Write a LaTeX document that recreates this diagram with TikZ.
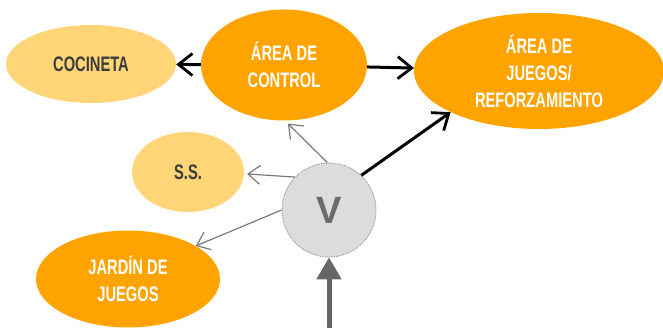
\documentclass[tikz,border=0pt]{standalone}
\usepackage{fontspec}
\setmainfont{Liberation Sans}
\newfontfamily\narrowfont[FakeStretch=0.7,BoldFeatures={FakeStretch=0.7}]{Liberation Sans}
\usetikzlibrary{shapes.geometric,arrows.meta}
\definecolor{zoneorange}{HTML}{FFA300}
\definecolor{zonelight}{HTML}{FFD577}
\definecolor{zonetext}{HTML}{3C3C3C}
\definecolor{vfill}{HTML}{DCDCDC}
\definecolor{vtext}{HTML}{6B6B6B}
\definecolor{thinlink}{HTML}{7A7A7A}
\definecolor{entrylink}{HTML}{666666}
\tikzset{
  zone/.style={ellipse, inner sep=0pt, align=center,
    font=\fontsize{21}{27}\selectfont\narrowfont\bfseries},
  mainzone/.style={zone, fill=zoneorange, text=white},
  sidezone/.style={zone, fill=zonelight, text=zonetext},
  hub/.style={circle, minimum size=94pt, inner sep=0pt, fill=vfill,
    draw=gray, densely dotted, line width=0.8pt, text=vtext,
    font=\fontsize{38}{40}\selectfont\bfseries},
  boldlink/.style={-{Straight Barb[length=14pt,width=22pt,line width=2.8pt]},
    line width=3pt, black},
  thinlinkstyle/.style={-{Straight Barb[length=12pt,width=19pt,line width=1.2pt]},
    line width=1.2pt, thinlink},
  entry/.style={-{Triangle[length=22pt,width=24pt]}, line width=5pt, entrylink}
}
\begin{document}
\begin{tikzpicture}[x=1pt,y=-1pt]
  \useasboundingbox (0,0) rectangle (663,328);
  % zones
  \node[sidezone, minimum width=170pt, minimum height=78pt] (coc) at (91,64) {COCINETA};
  \node[mainzone, minimum width=166pt, minimum height=111pt] (ctrl) at (284,65) {ÁREA DE\\CONTROL};
  \node[mainzone, minimum width=250pt, minimum height=116pt] (play) at (539,71) {ÁREA DE\\JUEGOS/\\REFORZAMIENTO};
  \node[sidezone, minimum width=112pt, minimum height=80pt] (ss) at (188,172) {S.S.};
  \node[mainzone, minimum width=184pt, minimum height=97pt] (yard) at (128,279) {JARDÍN DE\\JUEGOS};
  % hub
  \node[hub] (v) at (329,210) {V};
  \coordinate (door) at (329,328);
  % connectors
  \draw[boldlink] (ctrl) -- (coc);
  \draw[boldlink] (ctrl) -- (play);
  \draw[boldlink] (v.47) -- (play.205);
  \draw[thinlinkstyle] (v.92) -- ([yshift=-3pt]ctrl.-86);
  \draw[thinlinkstyle] (v.136) -- ([xshift=3pt]ss.-2);
  \draw[thinlinkstyle] (v.180) -- (yard.26);
  \draw[entry] (door) -- (v.south);
\end{tikzpicture}
\end{document}
